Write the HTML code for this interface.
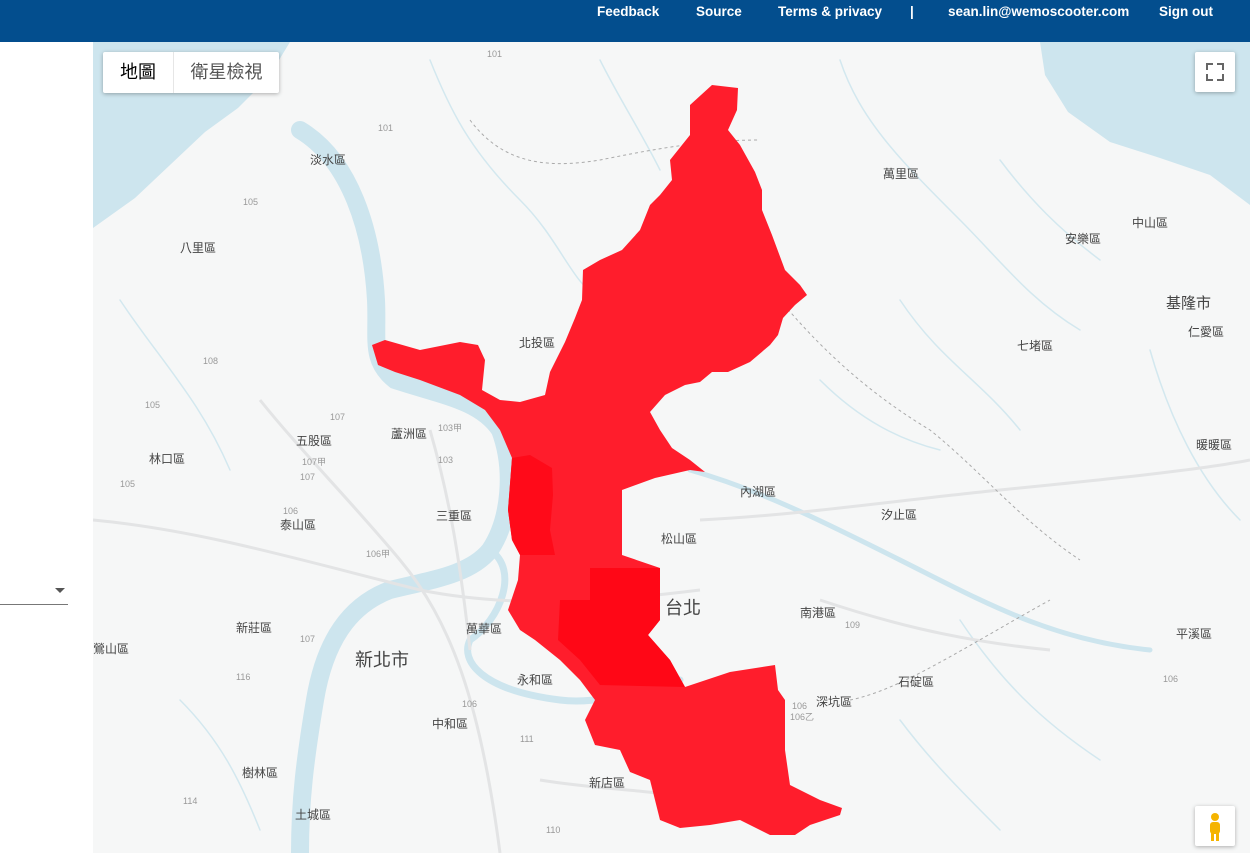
<!DOCTYPE html>
<html><head><meta charset="utf-8">
<style>
body{margin:0;width:1250px;height:853px;overflow:hidden;background:#fff;font-family:"Liberation Sans","Noto Sans CJK TC",sans-serif;position:relative}
#hdr{position:absolute;left:0;top:0;width:1250px;height:42px;background:#034e8e}
#hdr span{position:absolute;top:4px;color:#fff;font-weight:bold;font-size:13.5px}
#left{position:absolute;left:0;top:42px;width:93px;height:811px;background:#fff}
#map{position:absolute;left:93px;top:42px;width:1157px;height:811px;background:#f6f7f7;overflow:hidden}
.btn{position:absolute;background:#fff;box-shadow:0 1px 4px rgba(0,0,0,.3);border-radius:2px}
</style></head><body>
<div id="hdr">
<span style="left:597px">Feedback</span>
<span style="left:696px">Source</span>
<span style="left:778px">Terms &amp; privacy</span>
<span style="left:910px">|</span>
<span style="left:948px">sean.lin@wemoscooter.com</span>
<span style="left:1159px">Sign out</span>
</div>
<div id="left">
<div style="position:absolute;left:0;top:562px;width:68px;height:1px;background:#777"></div>
<div style="position:absolute;left:55px;top:546px;width:0;height:0;border-left:5px solid transparent;border-right:5px solid transparent;border-top:5px solid #555"></div>
</div>
<div id="map">
<svg width="1157" height="811" viewBox="93 42 1157 811" style="position:absolute;left:0;top:0">
<g fill="#cde5ee" stroke="none">
<polygon points="93,42 290,42 268,78 238,108 205,132 170,165 135,198 93,228"/>
<polygon points="1040,42 1250,42 1250,205 1210,175 1160,158 1110,142 1068,112 1045,75"/>
</g>
<g fill="none" stroke="#cde5ee" stroke-linecap="round">
<path d="M300,130 C350,160 372,230 376,300 C378,340 370,360 395,380 C440,395 480,400 500,430 C515,470 510,520 490,550 C470,575 430,580 390,590 C350,605 325,640 315,700 C305,760 300,800 300,853" stroke-width="18"/>
<path d="M490,550 C520,570 500,620 470,640 C460,660 480,690 560,700 C600,705 640,690 680,680" stroke-width="7"/>
<path d="M690,470 C760,490 820,520 900,560 C980,600 1050,640 1150,650" stroke-width="5"/>
<g stroke-width="1.5" stroke="#d3e8ef">
<path d="M430,60 C450,110 470,150 520,200 C560,240 570,280 600,300"/>
<path d="M840,60 C860,120 900,160 960,220 C1000,260 1030,300 1080,330"/>
<path d="M900,300 C940,360 980,380 1020,430"/>
<path d="M1150,350 C1170,420 1200,480 1240,520"/>
<path d="M120,300 C160,360 200,400 230,470"/>
<path d="M960,620 C1000,680 1040,720 1100,760"/>
<path d="M900,720 C930,760 960,790 1000,830"/>
<path d="M180,700 C220,740 240,780 260,830"/>
<path d="M600,60 C620,100 640,130 660,170"/>
<path d="M1000,160 C1030,200 1060,230 1100,260"/>
<path d="M820,380 C860,420 900,440 940,450"/>
</g>
</g>
<g fill="none" stroke="#e3e4e5" stroke-width="3">
<path d="M93,520 C200,530 300,560 420,590 C520,610 620,600 700,590"/>
<path d="M700,520 C800,515 900,500 1000,490 C1100,480 1200,470 1250,460"/>
<path d="M260,400 C300,450 350,500 400,560 C450,620 480,700 500,853"/>
<path d="M430,430 C450,500 460,560 470,650"/>
<path d="M820,600 C880,620 950,640 1050,650"/>
<path d="M540,780 C600,790 660,790 700,800"/>
</g>
<path d="M470,120 C500,160 540,170 600,160 C650,150 700,140 760,140 M780,300 C830,360 880,400 930,430 C980,470 1020,520 1080,560 M850,700 C900,690 960,650 1050,600" fill="none" stroke="#aaa" stroke-width="1" stroke-dasharray="3,3"/>
<polygon fill="#ff1d2c" points="372,345 385,340 420,350 460,342 478,345 485,360 482,390 500,400 520,402 545,395 550,372 565,342 575,318 582,300 583,270 600,260 622,250 640,230 650,205 660,195 672,180 670,160 690,135 690,105 712,85 738,88 737,110 728,130 740,145 755,172 762,190 762,210 772,235 785,270 800,285 807,295 795,305 783,318 778,335 770,345 750,362 728,372 712,372 700,382 685,385 665,395 650,412 660,430 672,448 690,460 705,472 690,470 655,478 622,490 622,555 660,568 660,620 648,635 670,660 685,687 730,672 775,665 778,690 785,700 785,750 790,785 820,800 842,808 840,815 810,825 795,835 770,835 740,820 710,825 680,828 660,820 650,780 630,772 620,750 595,745 585,720 595,700 580,680 560,660 535,640 520,630 508,610 518,580 520,555 512,540 508,510 512,458 500,430 485,410 460,395 420,380 395,372 378,365"/>
<polygon fill="#ff0a19" points="512,458 530,455 552,468 553,495 550,530 555,555 520,555 512,540 508,510"/>
<polygon fill="#ff0716" points="590,568 660,568 660,620 648,635 670,660 685,687 600,685 580,660 558,640 560,600 590,600"/>
<g fill="#444" font-size="12">
<text x="310" y="164">淡水區</text><text x="180" y="252">八里區</text><text x="519" y="347">北投區</text>
<text x="883" y="178">萬里區</text><text x="1065" y="243">安樂區</text><text x="1132" y="227">中山區</text>
<text x="1017" y="350">七堵區</text><text x="1188" y="336">仁愛區</text><text x="1196" y="449">暖暖區</text>
<text x="391" y="438">蘆洲區</text><text x="296" y="445">五股區</text><text x="149" y="463">林口區</text>
<text x="740" y="496">內湖區</text><text x="436" y="520">三重區</text><text x="280" y="529">泰山區</text>
<text x="661" y="543">松山區</text><text x="881" y="519">汐止區</text><text x="800" y="617">南港區</text>
<text x="466" y="633">萬華區</text><text x="236" y="632">新莊區</text><text x="517" y="684">永和區</text>
<text x="1176" y="638">平溪區</text><text x="898" y="686">石碇區</text><text x="816" y="706">深坑區</text>
<text x="432" y="728">中和區</text><text x="242" y="777">樹林區</text><text x="589" y="787">新店區</text>
<text x="295" y="819">土城區</text><text x="93" y="653">鶯山區</text>
<text x="1166" y="308" font-size="15">基隆市</text>
<text x="355" y="666" font-size="18">新北市</text><text x="665" y="614" font-size="18">台北</text>
</g>
<g fill="#999" font-size="9">
<text x="487" y="57">101</text><text x="378" y="131">101</text><text x="243" y="205">105</text>
<text x="203" y="364">108</text><text x="145" y="408">105</text><text x="330" y="420">107</text>
<text x="438" y="431">103甲</text><text x="438" y="463">103</text><text x="302" y="465">107甲</text>
<text x="300" y="480">107</text><text x="120" y="487">105</text><text x="283" y="514">106</text>
<text x="366" y="557">106甲</text><text x="300" y="642">107</text><text x="236" y="680">116</text>
<text x="462" y="707">106</text><text x="520" y="742">111</text><text x="183" y="804">114</text>
<text x="546" y="833">110</text><text x="845" y="628">109</text><text x="1163" y="682">106</text>
<text x="792" y="709">106</text><text x="790" y="720">106乙</text>
</g>
</svg>
<div class="btn" style="left:10px;top:10px;width:176px;height:41px">
<div style="position:absolute;left:0;top:0;width:70px;height:41px;line-height:41px;text-align:center;font-size:18px;color:#000;border-right:1px solid #e6e6e6">地圖</div>
<div style="position:absolute;left:71px;top:0;width:105px;height:41px;line-height:41px;text-align:center;font-size:18px;color:#555">衛星檢視</div>
</div>
<div class="btn" style="left:1102px;top:10px;width:40px;height:40px">
<svg width="40" height="40"><path d="M12,18 V12 H18 M22,12 H28 V18 M28,22 V28 H22 M18,28 H12 V22" fill="none" stroke="#666" stroke-width="2"/></svg>
</div>
<div class="btn" style="left:1102px;top:764px;width:40px;height:40px">
<svg width="40" height="40"><circle cx="20" cy="11" r="4" fill="#f5b400"/><rect x="15" y="16" width="10" height="12" rx="3" fill="#f5b400"/><rect x="16" y="26" width="3" height="9" fill="#f5b400"/><rect x="21" y="26" width="3" height="9" fill="#f5b400"/></svg>
</div>
</div>
</body></html>
